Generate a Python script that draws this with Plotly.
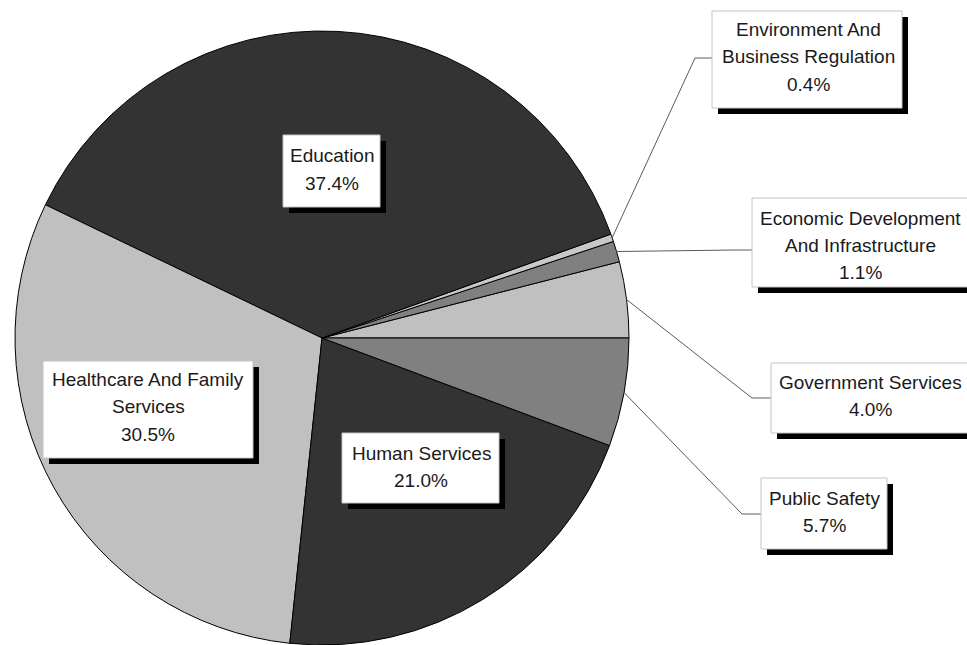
import math
import plotly.graph_objects as go

# ---- data ----
categories = ["Government Services", "Economic Development And Infrastructure",
              "Environment And Business Regulation", "Education",
              "Healthcare And Family Services", "Human Services", "Public Safety"]
wrapped = ["Government Services", "Economic Development<br>And Infrastructure",
           "Environment And<br>Business Regulation", "Education",
           "Healthcare And Family<br>Services", "Human Services", "Public Safety"]
values = [4.0, 1.1, 0.4, 37.4, 30.5, 21.0, 5.7]
colors = ["#c0c0c0", "#808080", "#c8c8c8", "#333333", "#c0c0c0", "#333333", "#808080"]

W, H = 967, 645
CX, CY, R = 322, 338, 307

def px(x):
    return x / W

def py(y):
    return 1 - y / H

# label box layout (pixel positions): box l,t,r,b ; text center x ; first line y ; elbow
boxes = {
    "Government Services": dict(box=(771, 363, 980, 433), tx=870, ty=382, elbow=(752, 398)),
    "Economic Development And Infrastructure": dict(box=(752, 198, 980, 287), tx=860, ty=218, elbow=(735, 250)),
    "Environment And Business Regulation": dict(box=(712, 11, 902, 108), tx=808, ty=29, elbow=(695, 58)),
    "Education": dict(box=(283, 135, 380, 207), tx=332, ty=156, elbow=None),
    "Healthcare And Family Services": dict(box=(43, 361, 253, 458), tx=148, ty=379, elbow=None),
    "Human Services": dict(box=(342, 433, 499, 503), tx=421, ty=453, elbow=None),
    "Public Safety": dict(box=(761, 478, 887, 549), tx=824, ty=498, elbow=(742, 514)),
}
LINE_GAP = 27.5
SHADOW = 6

total = sum(values)
# first slice starts at 3 o'clock and slices run counterclockwise
rotation = 90 - 360 * values[0] / total

fig = go.Figure(go.Pie(
    labels=categories, values=values, sort=False,
    direction="counterclockwise", rotation=rotation,
    marker=dict(colors=colors, line=dict(color="#000000", width=1)),
    textinfo="none", hoverinfo="label+percent", showlegend=False,
    domain=dict(x=[px(CX - R), px(CX + R)], y=[py(CY + R), py(CY - R)]),
))

shapes = []
annotations = []
cum = 0.0
for cat, lab, v in zip(categories, wrapped, values):
    mid = (cum + v / 2) / total
    cum += v
    ang = math.radians(mid * 360)  # counterclockwise from 3 o'clock
    b = boxes[cat]
    l, t, r, bt = b["box"]
    if b["elbow"] is not None:
        sx = CX + R * math.cos(ang)
        sy = CY - R * math.sin(ang)
        ex, ey = b["elbow"]
        shapes.append(dict(type="path", xref="paper", yref="paper",
                           path=f"M {px(sx)} {py(sy)} L {px(ex)} {py(ey)} L {px(l)} {py(ey)}",
                           line=dict(color="#5a5a5a", width=1)))
    shapes.append(dict(type="rect", xref="paper", yref="paper",
                       x0=px(l + SHADOW), x1=px(r + SHADOW), y0=py(t + SHADOW), y1=py(bt + SHADOW),
                       fillcolor="#000000", line=dict(width=0)))
    shapes.append(dict(type="rect", xref="paper", yref="paper",
                       x0=px(l), x1=px(r), y0=py(t), y1=py(bt),
                       fillcolor="#ffffff", line=dict(color="#c4c4c4", width=1)))
    lines = lab.split("<br>") + [f"{v:.1f}%"]
    for i, ln in enumerate(lines):
        annotations.append(dict(xref="paper", yref="paper", x=px(b["tx"]), y=py(b["ty"] + i * LINE_GAP),
                                text=ln, showarrow=False, xanchor="center", yanchor="middle",
                                font=dict(family="Liberation Sans, Arial, sans-serif", size=19, color="#1a1a1a")))

fig.update_layout(
    width=W, height=H, margin=dict(l=0, r=0, t=0, b=0),
    paper_bgcolor="#ffffff", plot_bgcolor="#ffffff",
    shapes=shapes, annotations=annotations, showlegend=False,
)

fig.write_html("out.html")
